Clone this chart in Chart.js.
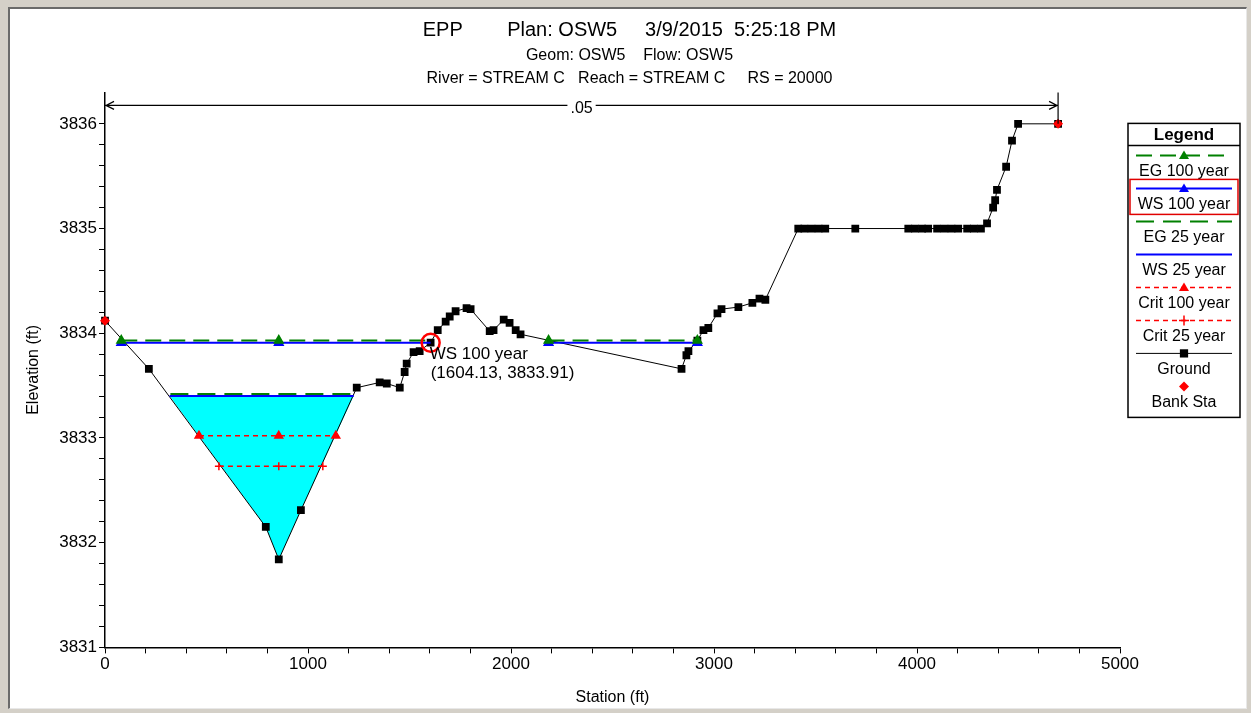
<!DOCTYPE html>
<html>
<head>
<meta charset="utf-8">
<script src="https://cdn.jsdelivr.net/npm/chart.js@4.4.1/dist/chart.umd.min.js"></script>
<style>
  html, body { margin: 0; padding: 0; background: #d4d0c8; }
  #panel { position: absolute; left: 8px; top: 7px; width: 1236px; height: 699px;
           background: #fff; border-left: 2px solid #6a6a6a; border-top: 2px solid #6a6a6a;
           border-right: 1px solid #e8e8e8; border-bottom: 1px solid #e8e8e8; }
  canvas { position: absolute; left: 0; top: 0; }
</style>
</head>
<body>
<div id="panel"></div>
<canvas id="xs" width="1251" height="713"></canvas>
<script>
// ground profile (station ft, elevation ft)
const groundSta = [0, 216, 792, 856, 965, 1240, 1353, 1388, 1452, 1476,
  1486, 1520, 1550, 1604, 1639, 1678, 1698, 1727, 1781, 1801,
  1895, 1914, 1964, 1993, 2023, 2047, 2840, 2864, 2874, 2918,
  2948, 2972, 3017, 3037, 3120, 3189, 3224, 3253, 3415, 3445,
  3480, 3515, 3548, 3696, 3957, 3990, 4025, 4055, 4099, 4135,
  4170, 4203, 4247, 4280, 4315, 4345, 4375, 4385, 4394, 4439,
  4468, 4498, 4695];
const groundElev = [3834.12, 3833.66, 3832.15, 3831.84, 3832.31, 3833.48, 3833.53, 3833.52, 3833.48, 3833.63,
  3833.71, 3833.82, 3833.83, 3833.91, 3834.03, 3834.11, 3834.16, 3834.21, 3834.24, 3834.23,
  3834.02, 3834.03, 3834.13, 3834.10, 3834.03, 3833.99, 3833.66, 3833.79, 3833.83, 3833.93,
  3834.03, 3834.05, 3834.19, 3834.23, 3834.25, 3834.29, 3834.33, 3834.32, 3835.00, 3835.00,
  3835.00, 3835.00, 3835.00, 3835.00, 3835.00, 3835.00, 3835.00, 3835.00, 3835.00, 3835.00,
  3835.00, 3835.00, 3835.00, 3835.00, 3835.00, 3835.05, 3835.20, 3835.27, 3835.37, 3835.59,
  3835.84, 3836.00, 3836.00];

const bankSta = [0, 4695];
const bankElev = [3834.12, 3836.00];

// water surfaces (null breaks the line where ground is above water)
const eg100Sta = [80, 856, 1604, 1900, 2185, 2918];
const eg100Elev = [3833.93, 3833.93, 3833.93, null, 3833.93, 3833.93];
const ws100Sta = [80, 856, 1604, 1900, 2185, 2918];
const ws100Elev = [3833.91, 3833.91, 3833.91, null, 3833.91, 3833.91];
const eg25Sta = [322, 1228];
const eg25Elev = [3833.42, 3833.42];
const ws25Sta = [318, 856, 1225];
const ws25Elev = [3833.40, 3833.40, 3833.40];
const crit100Sta = [463, 856, 1137];
const crit100Elev = [3833.02, 3833.02, 3833.02];
const crit25Sta = [561, 856, 1073];
const crit25Elev = [3832.73, 3832.73, 3832.73];

// channel below WS 25 year
const waterSta = [318, 792, 856, 965, 1225];
const waterElev = [3833.40, 3832.15, 3831.84, 3832.31, 3833.40];

// Manning's n between stations
const nBreaks = [0, 4695];
const nValues = ['.05'];

// highlighted point
const hoverLabel = 'WS 100 year';
const hoverSta = 1604.13;
const hoverElev = 3833.91;

const legendOrder = ['EG 100 year', 'WS 100 year', 'EG 25 year', 'WS 25 year',
  'Crit 100 year', 'Crit 25 year', 'Ground', 'Bank Sta'];

const FONT = '"Liberation Sans", Arial, sans-serif';
const xy = (xs, ys) => xs.map((x, i) => ({x: x, y: ys[i]}));

Chart.defaults.font.family = FONT;
Chart.defaults.color = '#000';

function marker(ctx, style, x, y, r, color) {
  ctx.save();
  ctx.fillStyle = color;
  ctx.strokeStyle = color;
  ctx.beginPath();
  if (style === 'triangle') {
    ctx.moveTo(x, y - r);
    ctx.lineTo(x + r, y + r * 0.7);
    ctx.lineTo(x - r, y + r * 0.7);
    ctx.closePath();
    ctx.fill();
  } else if (style === 'rect') {
    ctx.fillRect(x - r * 0.75, y - r * 0.75, r * 1.5, r * 1.5);
  } else if (style === 'rectRot') {
    ctx.moveTo(x, y - r); ctx.lineTo(x + r, y); ctx.lineTo(x, y + r); ctx.lineTo(x - r, y);
    ctx.closePath();
    ctx.fill();
  } else if (style === 'cross') {
    ctx.lineWidth = 1.5;
    ctx.moveTo(x - r, y); ctx.lineTo(x + r, y);
    ctx.moveTo(x, y - r); ctx.lineTo(x, y + r);
    ctx.stroke();
  }
  ctx.restore();
}

// the title blocks span the whole window, not just the space left of the legend
const centerTitles = {
  id: 'centerTitles',
  afterLayout(chart) {
    chart.boxes.forEach(b => {
      if (!b.axis && b.options && typeof b.options.text !== 'undefined' && b.position === 'top') {
        b.left = 8;
        b.right = chart.width;
        b.width = b.right - b.left;
      }
    });
  }
};

const legendBox = {
  id: 'legendBox',
  afterDraw(chart) {
    const ctx = chart.ctx;
    const left = chart.chartArea.right + 8, top = chart.chartArea.top + 31, w = 112;
    const headH = 22, rowH = 33;
    const items = legendOrder.map(l => chart.data.datasets.find(d => d.label === l));
    const h = headH + rowH * items.length + 8;
    ctx.save();
    ctx.fillStyle = '#fff';
    ctx.fillRect(left, top, w, h);
    ctx.strokeStyle = '#000';
    ctx.lineWidth = 1.5;
    ctx.strokeRect(left, top, w, h);
    ctx.beginPath();
    ctx.moveTo(left, top + headH);
    ctx.lineTo(left + w, top + headH);
    ctx.stroke();
    ctx.fillStyle = '#000';
    ctx.textAlign = 'center';
    ctx.textBaseline = 'middle';
    ctx.font = 'bold 17px ' + FONT;
    ctx.fillText('Legend', left + w / 2, top + headH / 2 + 1);
    ctx.font = '16px ' + FONT;
    items.forEach((ds, i) => {
      const y0 = top + headH + i * rowH;
      const ly = y0 + 10, ty = y0 + 26;
      if (ds.showLine) {
        ctx.save();
        ctx.strokeStyle = ds.borderColor;
        ctx.lineWidth = ds.borderWidth;
        ctx.setLineDash(ds.borderDash || []);
        ctx.beginPath();
        ctx.moveTo(left + 8, ly);
        ctx.lineTo(left + w - 8, ly);
        ctx.stroke();
        ctx.restore();
      }
      const radii = [].concat(ds.pointRadius);
      if (Math.max.apply(null, radii) > 0) {
        marker(ctx, ds.pointStyle, left + w / 2, ly, ds.pointStyle === 'rect' ? 5.5 : 5, ds.pointBackgroundColor);
      }
      ctx.fillStyle = '#000';
      ctx.fillText(ds.label, left + w / 2, ty);
      if (ds.label === hoverLabel) {
        ctx.save();
        ctx.strokeStyle = '#e00000';
        ctx.lineWidth = 1.5;
        ctx.strokeRect(left + 2, y0 + 1, w - 4, rowH + 2);
        ctx.restore();
      }
    });
    ctx.restore();
  }
};

const annotations = {
  id: 'annotations',
  afterDatasetsDraw(chart) {
    const ctx = chart.ctx;
    const xs = chart.scales.x, ys = chart.scales.y, area = chart.chartArea;
    ctx.save();
    // Manning's n arrow
    const ay = area.top + 13;
    const x0 = xs.getPixelForValue(nBreaks[0]), x1 = xs.getPixelForValue(nBreaks[1]);
    ctx.strokeStyle = '#000';
    ctx.lineWidth = 1.2;
    ctx.beginPath();
    ctx.moveTo(x0, ay); ctx.lineTo(x1, ay);
    ctx.moveTo(x0 + 9, ay - 4); ctx.lineTo(x0 + 1, ay); ctx.lineTo(x0 + 9, ay + 4);
    ctx.moveTo(x1 - 9, ay - 4); ctx.lineTo(x1 - 1, ay); ctx.lineTo(x1 - 9, ay + 4);
    ctx.moveTo(x1, area.top); ctx.lineTo(x1, ys.getPixelForValue(bankElev[1]));
    ctx.stroke();
    ctx.font = '16px ' + FONT;
    ctx.textAlign = 'center';
    ctx.textBaseline = 'middle';
    const mx = (x0 + x1) / 2;
    const tw = ctx.measureText(nValues[0]).width;
    ctx.fillStyle = '#fff';
    ctx.fillRect(mx - tw / 2 - 3, ay - 6, tw + 6, 14);
    ctx.fillStyle = '#000';
    ctx.fillText(nValues[0], mx, ay + 3);

    // highlighted point with its readout
    const hx = xs.getPixelForValue(hoverSta), hy = ys.getPixelForValue(hoverElev);
    ctx.strokeStyle = '#ff0000';
    ctx.lineWidth = 2.5;
    ctx.beginPath();
    ctx.arc(hx, hy, 9, 0, Math.PI * 2);
    ctx.stroke();
    ctx.fillStyle = '#000';
    ctx.textAlign = 'left';
    ctx.font = '17px ' + FONT;
    ctx.fillText(hoverLabel, hx - 1, hy + 12);
    ctx.fillText('(' + hoverSta.toFixed(2) + ', ' + hoverElev.toFixed(2) + ')', hx, hy + 31);
    ctx.restore();
  }
};

function marks(n, on) {
  return Array.from({length: n}, (_, i) => on.indexOf(i) >= 0 ? 4.5 : 0);
}

const datasets = [
  { label: 'Bank Sta', data: xy(bankSta, bankElev), showLine: false,
    pointStyle: 'rectRot', pointRadius: 5, pointBackgroundColor: '#ff0000', pointBorderColor: '#ff0000',
    borderColor: '#ff0000', borderWidth: 0, clip: 10 },
  { label: 'EG 100 year', data: xy(eg100Sta, eg100Elev), showLine: true, spanGaps: false,
    borderColor: '#008000', borderWidth: 2, borderDash: [16, 8],
    pointStyle: 'triangle', pointRadius: marks(6, [0, 1, 4, 5]),
    pointBackgroundColor: '#008000', pointBorderColor: '#008000', clip: 10 },
  { label: 'WS 100 year', data: xy(ws100Sta, ws100Elev), showLine: true, spanGaps: false,
    borderColor: '#0000ff', borderWidth: 2,
    pointStyle: 'triangle', pointRadius: marks(6, [0, 1, 4, 5]),
    pointBackgroundColor: '#0000ff', pointBorderColor: '#0000ff' },
  { label: 'Crit 100 year', data: xy(crit100Sta, crit100Elev), showLine: true,
    borderColor: '#ff0000', borderWidth: 1.5, borderDash: [5, 4],
    pointStyle: 'triangle', pointRadius: 4.5,
    pointBackgroundColor: '#ff0000', pointBorderColor: '#ff0000' },
  { label: 'Crit 25 year', data: xy(crit25Sta, crit25Elev), showLine: true,
    borderColor: '#ff0000', borderWidth: 1.5, borderDash: [5, 4],
    pointStyle: 'cross', pointRadius: 4, pointBorderWidth: 1.5,
    pointBackgroundColor: '#ff0000', pointBorderColor: '#ff0000' },
  { label: 'EG 25 year', data: xy(eg25Sta, eg25Elev), showLine: true,
    borderColor: '#008000', borderWidth: 2, borderDash: [18, 9], pointRadius: 0,
    pointBackgroundColor: '#008000' },
  { label: 'WS 25 year', data: xy(ws25Sta, ws25Elev), showLine: true,
    borderColor: '#0000ff', borderWidth: 2, pointRadius: 0, pointBackgroundColor: '#0000ff' },
  { label: 'Ground', data: xy(groundSta, groundElev), showLine: true,
    borderColor: '#000', borderWidth: 1,
    pointStyle: 'rect', pointRadius: 5.5, pointBorderWidth: 0,
    pointBackgroundColor: '#000', pointBorderColor: '#000', clip: 10 },
  { label: '', data: xy(waterSta, waterElev), showLine: true,
    borderWidth: 0, borderColor: 'rgba(0,0,0,0)', pointRadius: 0,
    backgroundColor: '#00ffff', fill: {value: ws25Elev[0]} }
];

new Chart(document.getElementById('xs'), {
  type: 'scatter',
  data: { datasets: datasets },
  plugins: [centerTitles, annotations, legendBox],
  options: {
    responsive: false,
    animation: false,
    events: [],
    layout: { padding: { left: 10, right: 131, top: 0, bottom: 6 } },
    plugins: {
      legend: { display: false },
      tooltip: { enabled: false },
      title: {
        display: true,
        text: 'EPP        Plan: OSW5     3/9/2015  5:25:18 PM',
        font: { size: 20, weight: 'normal', lineHeight: 1.2 },
        color: '#000',
        padding: { top: 18, bottom: 0 }
      },
      subtitle: {
        display: true,
        text: ['Geom: OSW5    Flow: OSW5', 'River = STREAM C   Reach = STREAM C     RS = 20000'],
        font: { size: 16, lineHeight: 1.45 },
        color: '#000',
        padding: { top: 1.5, bottom: 2.5 }
      }
    },
    scales: {
      x: {
        type: 'linear', min: 0, max: 5000,
        ticks: { stepSize: 200, autoSkip: false, maxRotation: 0, padding: 1,
          font: { size: 17 }, color: '#000',
          callback: v => v % 1000 === 0 ? String(v) : '' },
        grid: { drawOnChartArea: false, drawTicks: true, tickLength: 6, color: '#000', tickWidth: 1 },
        border: { color: '#000', width: 1.5 },
        title: { display: true, text: 'Station (ft)', font: { size: 16 }, color: '#000',
          padding: { top: 12, bottom: 0 } }
      },
      y: {
        type: 'linear', min: 3831, max: 3836.3,
        afterBuildTicks: s => {
          s.ticks = s.ticks.filter(t => Math.abs((t.value - 3831) / 0.2 - Math.round((t.value - 3831) / 0.2)) < 1e-6);
        },
        ticks: { stepSize: 0.2, autoSkip: false, padding: 2, font: { size: 17 }, color: '#000',
          callback: v => Math.abs(v - Math.round(v)) < 1e-6 ? String(Math.round(v)) : '' },
        grid: { drawOnChartArea: false, drawTicks: true, tickLength: 6, color: '#000', tickWidth: 1 },
        border: { color: '#000', width: 1.5 },
        title: { display: true, text: 'Elevation (ft)', font: { size: 16 }, color: '#000',
          padding: { top: 14, bottom: 14 } }
      }
    }
  }
});
</script>
</body>
</html>
